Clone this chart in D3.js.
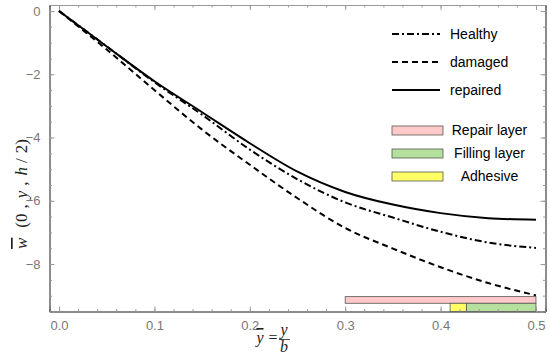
<!DOCTYPE html>
<html>
  <head>
    <meta charset="utf-8">
    <title>Deflection</title>
    <script src="https://d3js.org/d3.v7.min.js"></script>
    <style>
      body { margin: 0; background: #ffffff; }
    </style>
  </head>
  <body>
    <svg width="550" height="357" id="mainsvg"></svg>
    <script>
        // data
        const xs = [0, 0.05, 0.1, 0.15, 0.2, 0.25, 0.3, 0.35, 0.4, 0.45, 0.5];
        const healthy  = [0, -1.12, -2.25, -3.28, -4.38, -5.32, -6.05, -6.53, -6.98, -7.32, -7.49];
        const damaged  = [0, -1.22, -2.5, -3.75, -4.86, -5.92, -6.86, -7.51, -8.1, -8.6, -8.99];
        const repaired = [0, -1.12, -2.22, -3.2, -4.18, -5.08, -5.72, -6.12, -6.39, -6.55, -6.6];
        const xTicks = [0, 0.1, 0.2, 0.3, 0.4, 0.5];
        const yTicks = [0, -2, -4, -6, -8];
        const seriesNames = ['Healthy', 'damaged', 'repaired'];
        // layers: [x0, x1, yTop, yBottom]
        const layerNames = ['Repair layer', 'Filling layer', 'Adhesive'];
        const layerBoxes = [[0.3, 0.5, -9.03, -9.24], [0.427, 0.5, -9.24, -9.5], [0.41, 0.427, -9.24, -9.5]];

        const svg = d3.select('#mainsvg');
        const frame = {left: 49.5, right: 545.5, top: 5, bottom: 311.5};

        const xScale = d3.scaleLinear().domain([-0.01, 0.51]).range([frame.left, frame.right]);
        const yScale = d3.scaleLinear().domain([-9.5, 0.19]).range([frame.bottom, frame.top]);

        const frameColor = '#9a9a9a';
        const tickColor = '#777777';

        // layer rectangles
        const layerFill = ['#ffc9c9', '#b5e09d', '#ffff66'];
        svg.append('g').selectAll('rect').data(layerBoxes).enter().append('rect')
            .attr('x', d => xScale(d[0]))
            .attr('y', d => yScale(d[2]))
            .attr('width', d => xScale(d[1]) - xScale(d[0]))
            .attr('height', d => yScale(d[3]) - yScale(d[2]))
            .attr('fill', (d, i) => layerFill[i])
            .attr('stroke', '#555')
            .attr('stroke-width', 0.8);

        // axes: major and minor ticks, pointing inward on all four sides
        const minorX = d3.range(0, 0.51, 0.02).map(v => +v.toFixed(2));
        const minorY = d3.range(0, -9.51, -0.5).map(v => +v.toFixed(1));
        const axes = [
            [d3.axisBottom(xScale), 'bottom', xTicks, minorX, true],
            [d3.axisTop(xScale), 'top', xTicks, minorX, false],
            [d3.axisLeft(yScale), 'left', yTicks, minorY, true],
            [d3.axisRight(yScale), 'right', yTicks, minorY, false]
        ];
        axes.forEach(([ax, side, major, minor, labels]) => {
            const tr = side === 'bottom' ? `translate(0,${frame.bottom})`
                : side === 'top' ? `translate(0,${frame.top})`
                : side === 'left' ? `translate(${frame.left},0)` : `translate(${frame.right},0)`;
            const fmt = side === 'bottom' ? d3.format('.1f') : (d => d3.format('d')(d).replace('-', '\u2212'));
            svg.append('g').attr('transform', tr)
                .call(ax.tickValues(minor).tickSize(-2.5).tickFormat(''))
                .call(g => g.selectAll('line').attr('stroke', frameColor));
            const g = svg.append('g').attr('transform', tr)
                .call(ax.tickValues(major).tickSize(-5).tickPadding(labels ? 9 : 0).tickFormat(labels ? fmt : ''));
            g.selectAll('line').attr('stroke', frameColor);
            g.select('.domain').attr('stroke', frameColor);
            g.selectAll('text').attr('fill', tickColor)
                .attr('font-family', 'Liberation Sans, Arial, sans-serif')
                .attr('font-size', 13);
        });

        // curves
        const dashes = ['7,3,2,3', '6,4', null];
        const allSeries = [healthy, damaged, repaired];
        const line = d3.line()
            .x(d => xScale(d[0]))
            .y(d => yScale(d[1]))
            .curve(d3.curveMonotoneX);
        allSeries.forEach((s, i) => {
            svg.append('path')
                .datum(xs.map((x, j) => [x, s[j]]))
                .attr('d', line)
                .attr('fill', 'none')
                .attr('stroke', '#000')
                .attr('stroke-width', 2)
                .attr('stroke-dasharray', dashes[i]);
        });

        // legend for lines
        const legend = svg.append('g').attr('font-family', 'Liberation Sans, Arial, sans-serif').attr('font-size', 14);
        seriesNames.forEach((name, i) => {
            const y = 34 + i * 28;
            legend.append('line')
                .attr('x1', 392).attr('x2', 440).attr('y1', y).attr('y2', y)
                .attr('stroke', '#000').attr('stroke-width', 2)
                .attr('stroke-dasharray', dashes[i]);
            legend.append('text').attr('x', 450).attr('y', y + 5).text(name);
        });
        // legend for layers
        layerNames.forEach((name, i) => {
            const y = 126 + i * 23;
            legend.append('rect')
                .attr('x', 392).attr('y', y).attr('width', 51).attr('height', 9)
                .attr('fill', layerFill[i]).attr('stroke', '#555').attr('stroke-width', 0.8);
            legend.append('text').attr('x', 489.5).attr('y', y + 9).attr('text-anchor', 'middle').text(name);
        });

        // y axis label, pieces spaced like the original typesetting
        const yl = svg.append('text')
            .attr('transform', 'translate(27,249) rotate(-90)')
            .attr('font-family', 'Liberation Serif, Times New Roman, serif')
            .attr('font-size', 17)
            .attr('fill', '#222');
        const yParts = [['w', true, 0], ['(0', false, 10], [',', false, 5], ['y', true, 6],
                        [',', false, 5], ['h', true, 6], ['/', false, 4], ['2)', false, 5]];
        yParts.forEach(([t, it, dx]) => {
            const sp = yl.append('tspan').attr('dx', dx).text(t);
            if (it) sp.attr('font-style', 'italic');
            if (t === 'w') sp.attr('text-decoration', 'overline');
        });

        // x axis label
        const xl = svg.append('g')
            .attr('font-family', 'Liberation Serif, Times New Roman, serif')
            .attr('font-size', 16)
            .attr('fill', '#222');
        xl.append('text').attr('x', 260).attr('y', 343).attr('text-anchor', 'middle')
            .attr('font-style', 'italic').attr('text-decoration', 'overline').text('y');
        xl.append('text').attr('x', 273).attr('y', 343).attr('text-anchor', 'middle').text('=');
        xl.append('text').attr('x', 284).attr('y', 335).attr('text-anchor', 'middle')
            .attr('font-style', 'italic').text('y');
        xl.append('line').attr('x1', 279).attr('x2', 290).attr('y1', 339.5).attr('y2', 339.5)
            .attr('stroke', '#222').attr('stroke-width', 0.8);
        xl.append('text').attr('x', 284).attr('y', 352).attr('text-anchor', 'middle')
            .attr('font-style', 'italic').text('b');
    </script>
  </body>
</html>
